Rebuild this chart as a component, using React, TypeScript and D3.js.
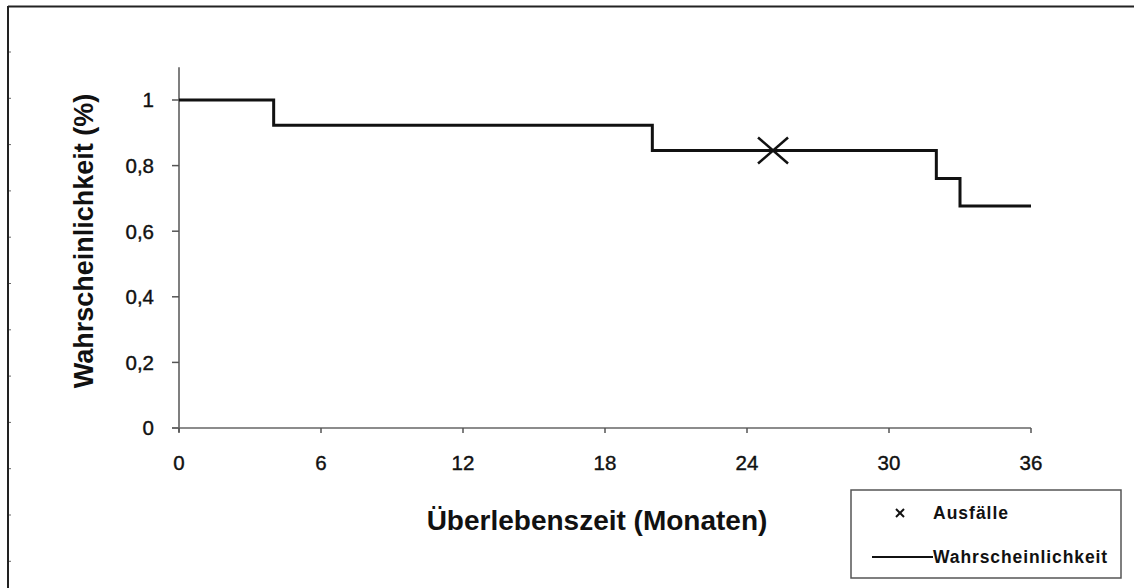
import React from "react";
import * as d3 from "d3";

// Kaplan–Meier estimate: event times (months) and survival after each step
const times = [0, 4, 20, 32, 33, 36];
const survival = [1, 0.923, 0.846, 0.761, 0.677, 0.677];

// censored observation
const censoredTimes = [25.1];
const censoredValues = [0.846];

const xTicks = [0, 6, 12, 18, 24, 30, 36];
const yTicks = [0, 0.2, 0.4, 0.6, 0.8, 1];
const yTickLabels = ["0", "0,2", "0,4", "0,6", "0,8", "1"];

const legendLabels = ["Ausfälle", "Wahrscheinlichkeit"];

const W = 1134;
const H = 588;
const FONT = "Arial, 'Liberation Sans', sans-serif";

export default function App() {
  const x = d3.scaleLinear().domain([0, 36]).range([179, 1031]);
  const y = d3.scaleLinear().domain([0, 1.1]).range([428, 67.2]);

  const pts: [number, number][] = times.map((t, i) => [t, survival[i]]);
  const line = d3
    .line<[number, number]>()
    .x((d) => x(d[0]))
    .y((d) => y(d[1]))
    .curve(d3.curveStepAfter);

  const frameTicks = d3.range(52, H, 46.3);

  return (
    <svg
      width={W}
      height={H}
      style={{ position: "absolute", left: 0, top: 0, background: "#fff" }}
      fontFamily={FONT}
    >
      {/* outer frame */}
      <line x1={8} y1={6.5} x2={W} y2={6.5} stroke="#222" strokeWidth={2} />
      <line x1={8} y1={6} x2={8} y2={H} stroke="#222" strokeWidth={2} />
      {frameTicks.map((t) => (
        <line key={t} x1={9} x2={11} y1={t} y2={t} stroke="#666" strokeWidth={1} />
      ))}

      {/* y axis */}
      <line x1={x(0)} x2={x(0)} y1={y(1.1)} y2={y(0) + 4} stroke="#555" strokeWidth={1.5} />
      {yTicks.map((v, i) => (
        <g key={v}>
          <line x1={x(0) - 7} x2={x(0)} y1={y(v)} y2={y(v)} stroke="#555" strokeWidth={1.5} />
          <text
            x={154}
            y={y(v)}
            dy="0.36em"
            textAnchor="end"
            fontSize={20.5}
            fill="#111"
            stroke="#111"
            strokeWidth={0.4}
          >
            {yTickLabels[i]}
          </text>
        </g>
      ))}

      {/* x axis */}
      <line x1={x(0) - 7} x2={x(36)} y1={y(0)} y2={y(0)} stroke="#666" strokeWidth={1.5} />
      {xTicks.map((v) => (
        <g key={v}>
          <line x1={x(v)} x2={x(v)} y1={y(0)} y2={y(0) + 5} stroke="#555" strokeWidth={1.5} />
          <text
            x={x(v)}
            y={470}
            textAnchor="middle"
            fontSize={20.5}
            fill="#111"
            stroke="#111"
            strokeWidth={0.4}
          >
            {v}
          </text>
        </g>
      ))}

      {/* axis titles */}
      <text x={597} y={530} textAnchor="middle" fontSize={28} fontWeight="bold" fill="#111">
        Überlebenszeit (Monaten)
      </text>
      <text
        transform={`translate(93,241) rotate(-90)`}
        textAnchor="middle"
        fontSize={27}
        fontWeight="bold"
        fill="#111"
      >
        Wahrscheinlichkeit (%)
      </text>

      {/* survival curve */}
      <path d={line(pts) ?? ""} fill="none" stroke="#111" strokeWidth={3} />

      {/* censored marks */}
      {censoredTimes.map((t, i) => {
        const cx = x(t);
        const cy = y(censoredValues[i]);
        return (
          <g key={t} stroke="#111" strokeWidth={2.5}>
            <line x1={cx - 15} y1={cy - 13} x2={cx + 15} y2={cy + 13} />
            <line x1={cx - 15} y1={cy + 13} x2={cx + 15} y2={cy - 13} />
          </g>
        );
      })}

      {/* legend */}
      <rect x={851} y={490} width={270} height={88} fill="#fff" stroke="#555" strokeWidth={1.5} />
      <g stroke="#111" strokeWidth={2}>
        <line x1={896} y1={509} x2={904} y2={517} />
        <line x1={896} y1={517} x2={904} y2={509} />
      </g>
      <text x={933} y={513} dy="0.36em" fontSize={17.5} fontWeight="bold" letterSpacing={1} fill="#111">
        {legendLabels[0]}
      </text>
      <line x1={872} x2={933} y1={557} y2={557} stroke="#111" strokeWidth={2} />
      <text x={933} y={557} dy="0.36em" fontSize={17.5} fontWeight="bold" letterSpacing={0.9} fill="#111">
        {legendLabels[1]}
      </text>
    </svg>
  );
}
